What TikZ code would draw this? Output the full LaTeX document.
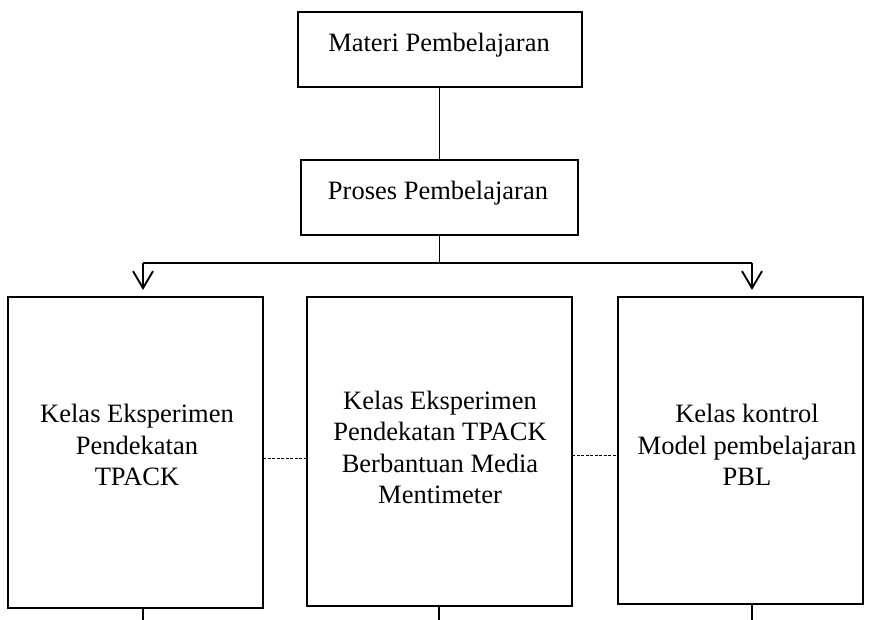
\documentclass[tikz,border=0pt]{standalone}
\usepackage{fontspec}
\setmainfont{Liberation Serif}
\usetikzlibrary{arrows.meta,calc}
\begin{document}
\begin{tikzpicture}[x=1pt,y=-1pt,
  box/.style={draw=black,line width=1.1pt,inner sep=0pt,outer sep=0pt},
  lbl/.style={font=\fontsize{26.5}{31.5}\selectfont,align=center,inner sep=0pt},
  conn/.style={line width=1.1pt},
  arr/.style={line width=1.1pt,-{Straight Barb[length=17pt,width=20pt,line width=1.9pt]}},
  dashlink/.style={line width=0.8pt,dash pattern=on 3pt off 1.5pt}]
\useasboundingbox (0,0) rectangle (869,620);

\node[box,minimum width=284pt,minimum height=75pt] (mat) at (440,49.5) {};
\node[lbl,anchor=base] (matT) at (439,52) {Materi Pembelajaran};
\node[box,minimum width=277pt,minimum height=75pt] (pro) at (439.5,197.5) {};
\node[lbl,anchor=base] (proT) at (438,200) {Proses Pembelajaran};

\node[box,minimum width=255pt,minimum height=311pt] (kl) at (135.5,452.5) {};
\node[lbl] (klT) at (137,445) {Kelas Eksperimen\\Pendekatan\\TPACK};
\node[box,minimum width=265pt,minimum height=309pt] (km) at (439.5,451.5) {};
\node[lbl] (kmT) at (440,447.5) {Kelas Eksperimen\\Pendekatan TPACK\\Berbantuan Media\\Mentimeter};
\node[box,minimum width=245pt,minimum height=307pt] (kr) at (740.5,450.5) {};
\node[lbl] (krT) at (747,445) {Kelas kontrol\\Model pembelajaran\\PBL};

\draw[conn] (mat.south -| pro.south) -- (pro.north);
\coordinate (jn) at (pro.south |- 0,263);
\coordinate (hl) at (143,263);
\coordinate (hr) at (752,263);
\draw[conn] (pro.south) -- (jn);
\draw[conn] (hl) -- (hr);
\draw[arr] (hl) -- ($(hl |- kl.north)+(0,-7)$);
\draw[arr] (hr) -- ($(hr |- kr.north)+(0,-7)$);

\draw[dashlink] ([yshift=-5.5pt]kl.east) -- ([yshift=-5.5pt]kl.east -| km.west);
\draw[dashlink] ([yshift=-3.5pt]km.east) -- ([yshift=-3.5pt]km.east -| kr.west);

\coordinate (bl) at (143,620);
\coordinate (bm) at (439,620);
\coordinate (br) at (752,620);
\draw[conn] (bl |- kl.south) -- (bl);
\draw[conn,line width=2.5pt] (bm |- km.south) -- (bm);
\draw[conn] (br |- kr.south) -- (br);
\end{tikzpicture}
\end{document}
